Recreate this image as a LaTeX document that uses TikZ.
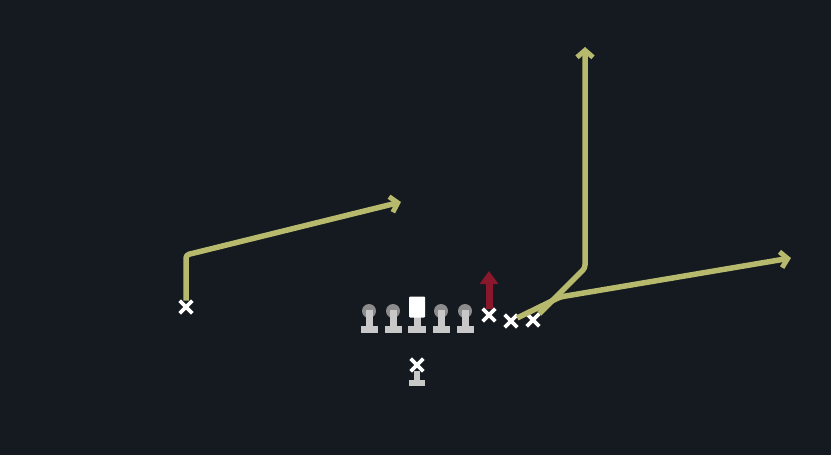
\documentclass[tikz,border=0pt]{standalone}
\usetikzlibrary{arrows.meta}
\usetikzlibrary{shapes.misc}
\usetikzlibrary{positioning}
\definecolor{field}{RGB}{21,25,32}
\definecolor{routecol}{RGB}{183,186,108}
\definecolor{blockcol}{RGB}{138,24,44}
\definecolor{helmetcol}{RGB}{140,140,140}
\definecolor{bodycol}{RGB}{200,200,200}

\begin{document}
\begin{tikzpicture}[x=1pt, y=-1pt,
      player/.style={cross out, draw=white, line width=3.6pt, minimum size=9pt, inner sep=0pt},
      route/.style={draw=routecol, line width=5.5pt, line join=round, rounded corners=3pt,
        -{Straight Barb[length=7pt, width=16pt, line width=5pt]}},
      block/.style={draw=blockcol, line width=7pt, -{Triangle[length=13pt, width=18pt]}},
      helmet/.style={circle, fill=helmetcol, minimum size=14pt, inner sep=0pt},
      center/.style={rectangle, fill=white, rounded corners=1pt, minimum width=16pt, minimum height=21pt, inner sep=0pt},
    ]
    \fill[field] (0,0) rectangle (831,455);

    % line
    \foreach \name/\x in {lt/369, lg/393, rg/441, rt/465} {
      \node[helmet] (\name) at (\x,311) {};
      \fill[bodycol] (\x-3.5,310) rectangle (\x+3.5,328);
      \fill[bodycol] (\x-8.5,326) rectangle (\x+8.5,333);
    }
    \fill[bodycol] (413.5,316) rectangle (420.5,328);
    \fill[bodycol] (408,326) rectangle (426,333);
    \node[center] (c) at (417,307) {};

    % skill players
    \node[player] (x)  at (186,307) {};
    \node[player] (te) at (489,315) {};
    \node[player] (s1) at (511,321) {};
    \node[player] (s2) at (533,320) {};
    \node[player] (qb) at (417,365) {};
    \fill[bodycol] (414,371) rectangle (420,382);
    \fill[bodycol] (409,380) rectangle (425,386);

    % routes
    \coordinate (x-break)  at (186,255);
    \coordinate (x-end)    at (401,202);
    \coordinate (s1-break) at (560,297);
    \coordinate (s1-end)   at (791,258);
    \coordinate (s2-break) at (585,268);
    \coordinate (s2-end)   at (585,47);
    \coordinate (te-end)   at (489,271);

    \draw[route] (x) -- (x-break) -- (x-end);
    \draw[route] (s1) -- (s1-break) -- (s1-end);
    \draw[route] (s2) -- (s2-break) -- (s2-end);
    \draw[block] (te) -- (te-end);
\end{tikzpicture}
\end{document}
